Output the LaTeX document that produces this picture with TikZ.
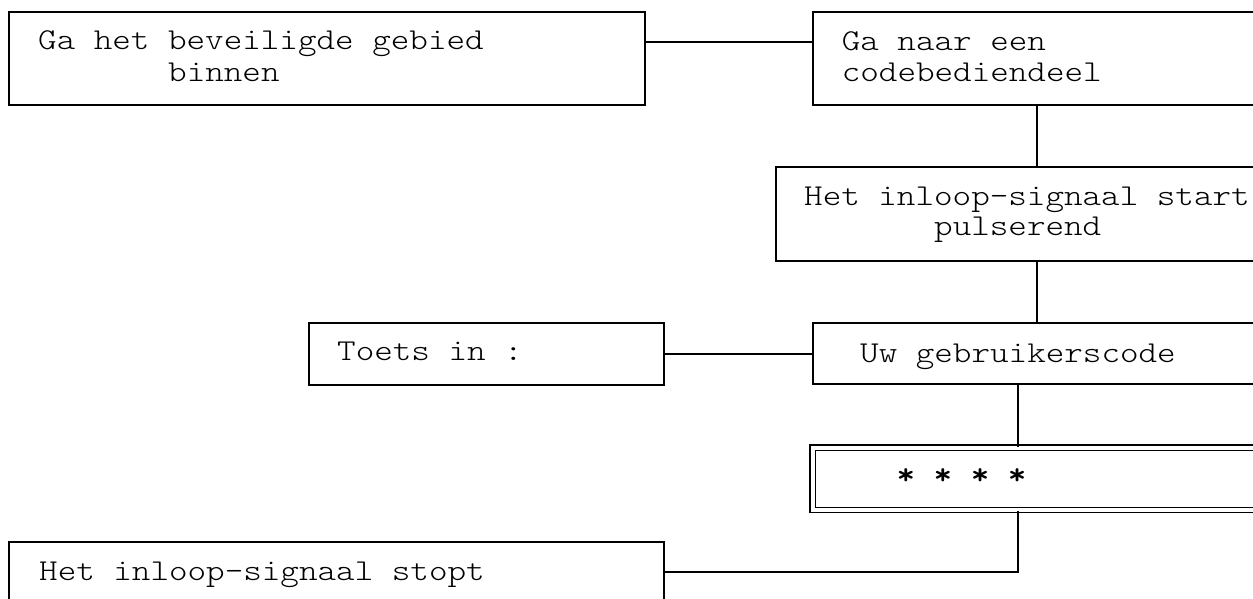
\documentclass[tikz,border=0pt]{standalone}
\usepackage{fontspec}
\newfontfamily\courlike{Latin Modern Mono Light}[FakeStretch=1.167]
\begin{document}
\begin{tikzpicture}[x=1pt,y=-1pt,
  box/.style={draw,line width=2pt,rectangle,inner sep=0pt,anchor=north west},
  dbox/.style={draw,double,line width=1.3pt,double distance=4pt,rectangle,inner sep=0pt,anchor=north west},
  txt/.style={inner sep=0pt,anchor=base west,font=\courlike\fontsize{30.3pt}{32pt}\selectfont},
  conn/.style={line width=2pt}]
\useasboundingbox (0,0) rectangle (1253,598);
\clip (0,0) rectangle (1253,598);
% boxes
\node[box,minimum width=636pt,minimum height=93pt] (b1) at (8,11) {};
\node[box,minimum width=470pt,minimum height=93pt] (b2) at (812,11) {};
\node[box,minimum width=505pt,minimum height=94pt] (b3) at (775,166) {};
\node[box,minimum width=470pt,minimum height=61pt] (b4) at (812,322) {};
\node[box,minimum width=355.5pt,minimum height=62pt] (tt) at (307.5,322) {};
\node[dbox,minimum width=470pt,minimum height=62.5pt] (b6) at (812,447) {};
\node[box,minimum width=655pt,minimum height=80pt] (b5) at (8,541) {};
% texts
\node[txt] (t1a) at (38,49.5) {Ga het beveiligde gebied};
\node[txt] (t1b) at (168,81.5) {binnen};
\node[txt] (t2a) at (841.6,50) {Ga naar een};
\node[txt] (t2b) at (841.6,81) {codebediendeel};
\node[txt] (t3a) at (804,205) {Het inloop-signaal start};
\node[txt] (t3b) at (934,235) {pulserend};
\node[txt] (t4) at (860,362) {Uw gebruikerscode};
\node[txt] (tt1) at (337,360.5) {Toets in :};
\node[txt,font=\courlike\fontsize{30.3pt}{32pt}\selectfont\bfseries] (t6) at (896.4,484) {* * * *};
\node[txt] (t5) at (39,580) {Het inloop-signaal stopt};
% connectors
\draw[conn] ([yshift=-31pt]b1.north east) -- ([yshift=-31pt]b2.north west);
\draw[conn] ([xshift=225pt]b2.south west) -- ([xshift=225pt]b2.south west |- b3.north);
\draw[conn] ([xshift=262pt]b3.south west) -- ([xshift=262pt]b3.south west |- b4.north);
\draw[conn] (tt.east) -- (tt.east -| b4.west);
\draw[conn] ([xshift=206pt]b4.south west) -- ([xshift=206pt]b4.south west |- b6.north);
\draw[conn] ([xshift=206pt]b6.south west) |- ([yshift=-31pt]b5.north east);
\end{tikzpicture}
\end{document}
